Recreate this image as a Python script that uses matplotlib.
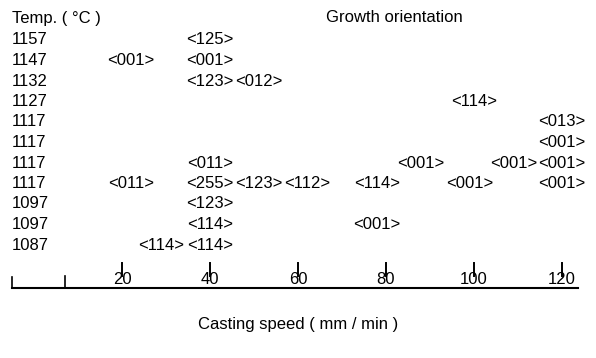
import matplotlib.pyplot as plt

plt.rcParams["font.family"] = ["Liberation Sans", "DejaVu Sans"]

# temperatures (row labels, top to bottom)
temps = ["1157", "1147", "1132", "1127", "1117", "1117", "1117", "1117", "1097", "1097", "1087"]

# growth orientation entries per row: (casting speed, orientation)
entries = [
    [(40, "<125>")],
    [(22, "<001>"), (40, "<001>")],
    [(40, "<123>"), (51, "<012>")],
    [(100, "<114>")],
    [(120, "<013>")],
    [(120, "<001>")],
    [(40, "<011>"), (88, "<001>"), (109, "<001>"), (120, "<001>")],
    [(22, "<011>"), (40, "<255>"), (51, "<123>"), (62, "<112>"), (78, "<114>"), (99, "<001>"), (120, "<001>")],
    [(40, "<123>")],
    [(40, "<114>"), (78, "<001>")],
    [(29, "<114>"), (40, "<114>")],
]

speed_ticks = [20, 40, 60, 80, 100, 120]

fig = plt.figure(figsize=(5.96, 3.58), dpi=100)
ax = fig.add_axes([0, 0, 1, 1])
ax.set_xlim(-7.73, 127.73)
ax.set_ylim(358, 0)
ax.axis("off")

fs = 12
x_left = -5.0  # left text column

ax.text(x_left, 18, "Temp. ( °C )", fontsize=fs, va="center", ha="left")
ax.text(82, 17, "Growth orientation", fontsize=fs, va="center", ha="center")

for i, t in enumerate(temps):
    y = 40 + i * 20.5
    ax.text(x_left, y, t, fontsize=fs, va="center", ha="left")
    for v, lab in entries[i]:
        ax.text(v, y, lab, fontsize=fs, va="center", ha="center")

# axis
ax.plot([-5, 123.6], [288, 288], color="black", lw=1.5)
ax.plot([-5, -5], [288, 277], color="black", lw=1.2)
ax.plot([7, 7], [288, 276], color="black", lw=1.2)
for v in speed_ticks:
    ax.plot([v, v], [263, 276], color="black", lw=1.4)
    ax.text(v, 280, str(v), fontsize=fs, va="center", ha="center")

ax.text(60, 325, "Casting speed ( mm / min )", fontsize=fs, va="center", ha="center")

fig.savefig("out.png", dpi=100)
